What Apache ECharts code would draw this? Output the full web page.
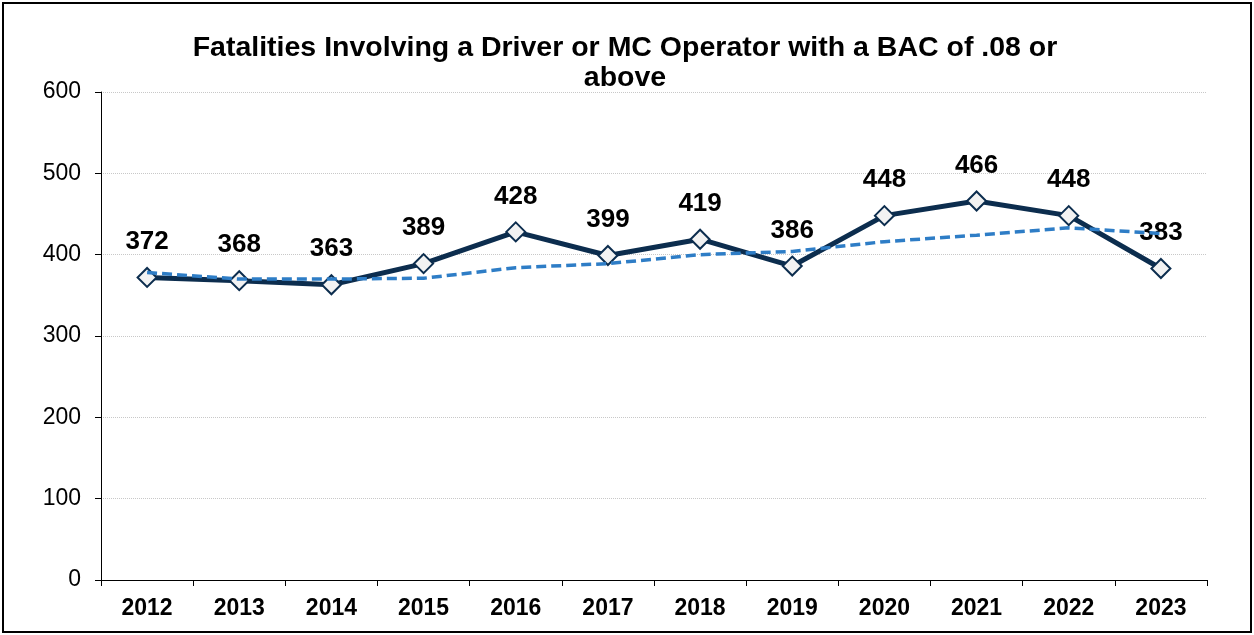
<!DOCTYPE html>
<html>
<head>
<meta charset="utf-8">
<script src="https://cdn.jsdelivr.net/npm/echarts@6/dist/echarts.min.js"></script>
<style>
  html, body { margin: 0; padding: 0; background: #fff; }
  #frame { position: absolute; left: 2px; top: 2px; width: 1246px; height: 627px; border: 2px solid #000; }
  #chart { width: 1254px; height: 635px; }
</style>
</head>
<body>
<div id="chart"></div>
<div id="frame"></div>
<script>
var years = ['2012', '2013', '2014', '2015', '2016', '2017', '2018', '2019', '2020', '2021', '2022', '2023'];
var fatalities = [372, 368, 363, 389, 428, 399, 419, 386, 448, 466, 448, 383];
// trend line
var trend = [378, 370, 370, 371, 384, 389, 400, 404, 416, 424, 433, 426];
var yTicks = [0, 100, 200, 300, 400, 500, 600];

var myChart = echarts.init(document.getElementById('chart'));
var options = {
  animation: false,
  title: {
    text: 'Fatalities Involving a Driver or MC Operator with a BAC of .08 or\nabove',
    left: 620,
    top: 28,
    textAlign: 'center',
    textStyle: { fontFamily: 'Liberation Sans, Arial', fontSize: 28.5, fontWeight: 'bold', color: '#000', lineHeight: 30 }
  },
  grid: { left: 101, right: 47, top: 92, bottom: 55 },
  xAxis: {
    type: 'category',
    data: years,
    boundaryGap: true,
    axisLine: { lineStyle: { color: '#000', width: 1 } },
    axisTick: { show: true, length: 6, lineStyle: { color: '#000' } },
    axisLabel: { fontFamily: 'Liberation Sans, Arial', fontSize: 23, fontWeight: 'bold', color: '#000', margin: 17 }
  },
  yAxis: {
    type: 'value',
    min: yTicks[0],
    max: yTicks[yTicks.length - 1],
    interval: 100,
    axisLine: { show: true, lineStyle: { color: '#000', width: 1 } },
    axisTick: { show: true, length: 6, lineStyle: { color: '#000' } },
    axisLabel: { fontFamily: 'Liberation Sans, Arial', fontSize: 23, color: '#000', margin: 20 },
    splitLine: { lineStyle: { color: '#c8c8c8', type: 'dotted', width: 1 } }
  },
  series: [
    {
      type: 'line',
      data: fatalities,
      symbol: 'diamond',
      symbolSize: 19,
      lineStyle: { color: '#0c2d4e', width: 5 },
      itemStyle: { color: '#f2f2f2', borderColor: '#0c2d4e', borderWidth: 2 },
      label: {
        show: true,
        position: 'top',
        distance: 12,
        fontFamily: 'Liberation Sans, Arial',
        fontSize: 26,
        fontWeight: 'bold',
        color: '#000'
      },
      z: 2
    },
    {
      type: 'line',
      data: trend,
      symbol: 'none',
      lineStyle: { color: '#2e7dc6', width: 3.5, type: [10, 5] },
      z: 3
    }
  ]
};
myChart.setOption(options);
</script>
</body>
</html>
